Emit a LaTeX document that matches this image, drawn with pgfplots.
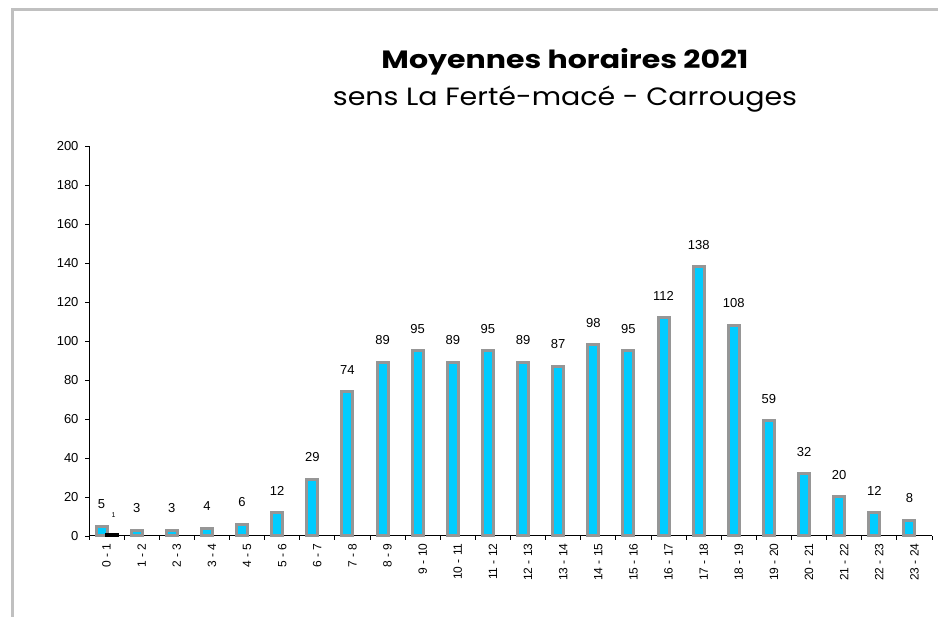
\documentclass[border=0pt]{standalone}
\usepackage{fontspec}
\setmainfont{Liberation Sans}
\newfontfamily\titlefontb[FakeStretch=1.2]{Poppins}
\newfontfamily\titlefontr[FakeStretch=1.14]{Poppins}
\usepackage{pgfplots}
\usepackage{pgfplotstable}
\pgfplotsset{compat=1.18}
\definecolor{barcyan}{RGB}{0,204,255}
\definecolor{bargray}{RGB}{150,150,150}
\definecolor{framegray}{RGB}{192,192,192}

\pgfplotstableread{
x y
0.5 5
1.5 3
2.5 3
3.5 4
4.5 6
5.5 12
6.5 29
7.5 74
8.5 89
9.5 95
10.5 89
11.5 95
12.5 89
13.5 87
14.5 98
15.5 95
16.5 112
17.5 138
18.5 108
19.5 59
20.5 32
21.5 20
22.5 12
23.5 8
}\maindata

\pgfplotstableread{
x y
0.5 1
}\seconddata

\begin{document}
\begin{tikzpicture}[x=1pt,y=1pt]
\useasboundingbox (0,0) rectangle (938,617);
\draw[framegray, line width=3pt] (12.5,0) -- (12.5,607.5) -- (938,607.5);
\node[font=\titlefontb\bfseries\fontsize{25}{28}\selectfont, anchor=base] at (565,548.7) {Moyennes horaires 2021};
\node[font=\titlefontr\fontsize{25}{28}\selectfont, anchor=base] at (565,511) {sens La Ferté-macé - Carrouges};
\begin{axis}[
  at={(89pt,81pt)}, anchor=south west,
  scale only axis, width=843pt, height=390pt,
  xmin=0, xmax=24, ymin=0, ymax=200,
  /pgf/number format/assume math mode=true,
  axis x line*=bottom, axis y line*=left,
  axis line style={line width=1pt, black},
  tick align=outside, major tick length=4pt,
  tick style={black, line width=0.8pt},
  ytick={0,20,...,200},
  yticklabel style={font=\fontsize{13}{15}\selectfont, xshift=-3pt},
  xtick={0,...,24},
  x tick label as interval,
  xticklabels={0 - 1,1 - 2,2 - 3,3 - 4,4 - 5,5 - 6,6 - 7,7 - 8,8 - 9,9 - 10,10 - 11,11 - 12,12 - 13,13 - 14,14 - 15,15 - 16,16 - 17,17 - 18,18 - 19,19 - 20,20 - 21,21 - 22,22 - 23,23 - 24},
  xticklabel style={font=\fontsize{12}{14}\selectfont, rotate=90, anchor=east},
  clip=false,
]
\addplot[ybar, bar width=11pt, bar shift=-5pt, fill=barcyan, draw=bargray, line width=3pt,
  nodes near coords,
  every node near coord/.append style={font=\fontsize{13}{15}\selectfont, anchor=center, xshift=-5pt, yshift=22pt, black}]
  table[x=x, y=y] {\maindata};
\addplot[ybar, bar width=11pt, bar shift=5pt, fill=black, draw=black, line width=3pt,
  nodes near coords,
  every node near coord/.append style={font=\fontsize{7}{8}\selectfont, anchor=center, xshift=7pt, yshift=19pt, black}]
  table[x=x, y=y] {\seconddata};
\end{axis}
\end{tikzpicture}
\end{document}
